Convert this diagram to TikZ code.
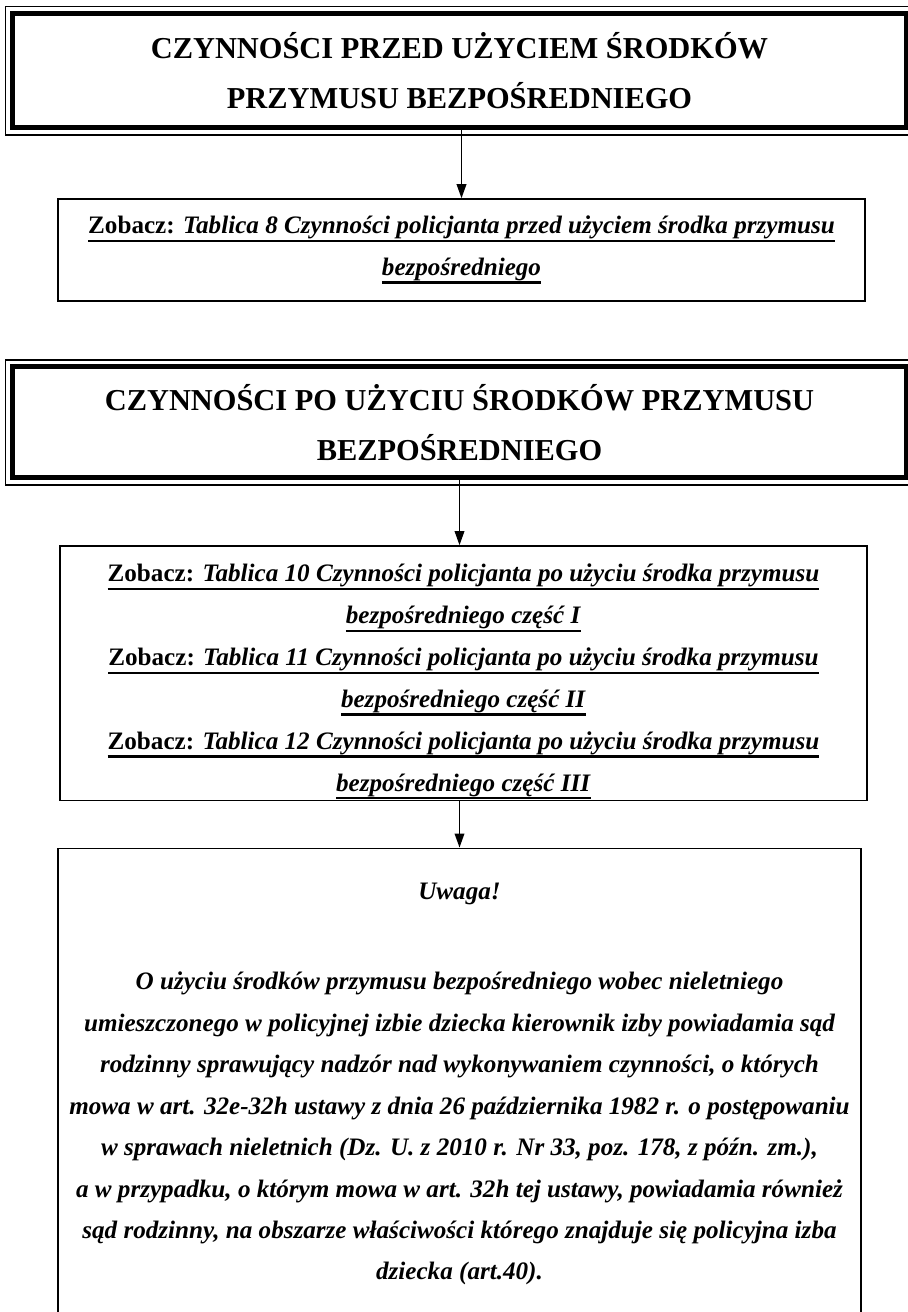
\documentclass[tikz,border=0pt]{standalone}
\usepackage{fontspec}
\setmainfont{Liberation Serif}
\usetikzlibrary{arrows.meta,positioning}

% underlined line of a link
\newcommand\ulink[1]{\setbox0\hbox{#1}\rlap{\rule[-4.8pt]{\wd0}{1.4pt}}\box0}

\begin{document}
\begin{tikzpicture}[x=0.02cm, y=-0.02cm, >={Triangle[length=8pt,width=5.5pt]},
  head/.style={draw, line width=0.1cm, minimum width=17.88cm, align=center,
    font=\fontsize{17.3pt}{28.5pt}\selectfont\bfseries},
  outerframe/.style={draw, line width=0.03cm},
  refbox/.style={draw, line width=0.03cm, minimum width=16.14cm, align=center,
    font=\fontsize{14.3pt}{23.8pt}\selectfont\bfseries},
  notebox/.style={draw, line width=0.03cm, minimum width=16.06cm, align=center,
    inner ysep=0.7cm, font=\fontsize{14.3pt}{23.6pt}\selectfont\bfseries\itshape},
  conn/.style={->, line width=0.03cm}]
  \useasboundingbox (0,0) rectangle (907,1312);

  % before: heading and its table
  \node[head, minimum height=2.29cm] (h1) at (459.5,70.75)
    {CZYNNOŚCI PRZED UŻYCIEM ŚRODKÓW\\PRZYMUSU BEZPOŚREDNIEGO};
  \draw[outerframe] ([shift={(-4.5,-4.5)}]h1.north west) rectangle ([shift={(4.5,4.5)}]h1.south east);
  \node[refbox, minimum height=2.04cm, below=1.355cm of h1, xshift=0.04cm] (z8)
    {\ulink{Zobacz: \textit{Tablica 8 Czynności policjanta przed użyciem środka przymusu}}\\
     \ulink{\textit{bezpośredniego}}};
  \draw[conn] (z8.north |- h1.south) -- (z8.north);

  % after: heading, its tables and the note
  \node[head, minimum height=2.22cm, below=1.255cm of z8, xshift=-0.04cm] (h2)
    {CZYNNOŚCI PO UŻYCIU ŚRODKÓW PRZYMUSU\\BEZPOŚREDNIEGO};
  \draw[outerframe] ([shift={(-4.5,-4.5)}]h2.north west) rectangle ([shift={(4.5,4.5)}]h2.south east);
  \node[refbox, minimum height=5.08cm, inner ysep=0.5pt, below=1.295cm of h2, xshift=0.08cm] (z10)
    {\rule{0pt}{20pt}\ulink{Zobacz: \textit{Tablica 10 Czynności policjanta po użyciu środka przymusu}}\\
     \ulink{\textit{bezpośredniego część I}}\\
     \ulink{Zobacz: \textit{Tablica 11 Czynności policjanta po użyciu środka przymusu}}\\
     \ulink{\textit{bezpośredniego część II}}\\
     \ulink{Zobacz: \textit{Tablica 12 Czynności policjanta po użyciu środka przymusu}}\\
     \ulink{\textit{bezpośredniego część III}}};
  \draw[conn] (h2.south) -- (h2.south |- z10.north);
  \node[notebox, below=0.93cm of z10, xshift=-0.08cm] (n1)
    {Uwaga!\\[27.6pt]
     O użyciu środków przymusu bezpośredniego wobec nieletniego\\
     umieszczonego w policyjnej izbie dziecka kierownik izby powiadamia sąd\\
     rodzinny sprawujący nadzór nad wykonywaniem czynności, o których\\
     mowa w art. 32e-32h ustawy z dnia 26 października 1982 r. o postępowaniu\\
     w sprawach nieletnich (Dz. U. z 2010 r. Nr 33, poz. 178, z późn. zm.),\\
     a w przypadku, o którym mowa w art. 32h tej ustawy, powiadamia również\\
     sąd rodzinny, na obszarze właściwości którego znajduje się policyjna izba\\
     dziecka (art.40).};
  \draw[conn] (n1.north |- z10.south) -- (n1.north);
\end{tikzpicture}
\end{document}
